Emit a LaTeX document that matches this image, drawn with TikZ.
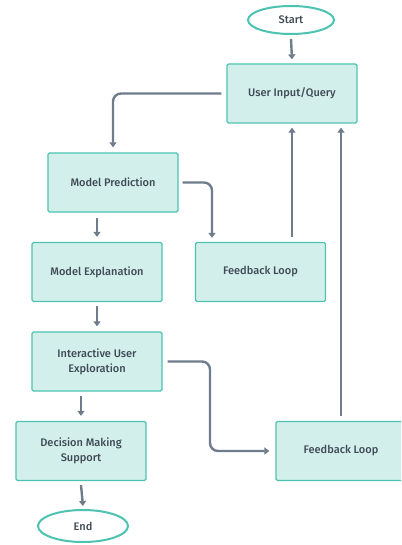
\documentclass[tikz,border=0pt]{standalone}
\usepackage{fontspec}
\setmainfont{Fira Sans}[UprightFont={* Medium}]
\usetikzlibrary{arrows.meta,shapes.geometric}
\definecolor{boxfill}{HTML}{D3EFEC}
\definecolor{boxline}{HTML}{4CC3B1}
\definecolor{arr}{HTML}{6E7C8C}
\definecolor{txt}{HTML}{3F4A55}
\tikzset{
  box/.style={draw=boxline, line width=1.3pt, fill=boxfill, rounded corners=1.5pt,
    minimum width=130pt, minimum height=59pt, align=center, text=txt,
    font=\fontsize{11}{15}\selectfont, inner sep=2pt},
  term/.style={ellipse, draw=boxline, line width=2pt, fill=white, minimum width=86pt,
    minimum height=28pt, inner sep=0pt, text=txt, font=\fontsize{11}{12}\selectfont},
  conn/.style={draw=arr, line width=2.4pt, -{Triangle[width=7pt,length=5pt]}, rounded corners=8pt}
}
\begin{document}
\begin{tikzpicture}[x=1pt,y=-1pt]
\useasboundingbox (0,0) rectangle (401,545);
\begin{scope}
\clip (0,0) rectangle (401,545);
\node[term] (start) at (291,20) {Start};
\node[box] (ui) at (292,93.5) {User Input/Query};
\node[box] (mp) at (113,182.5) {Model Prediction};
\node[box] (me) at (97,272) {Model Explanation};
\node[box] (fb1) at (260.5,272) {Feedback Loop};
\node[box] (iue) at (97,361.5) {Interactive User\\Exploration};
\node[box] (dms) at (81,451) {Decision Making\\Support};
\node[box] (fb2) at (341,451) {Feedback Loop};
\node[term, minimum width=90pt, minimum height=32pt] (end) at (83,526) {End};

\draw[conn] ([yshift=-4pt]start.south) -- ([yshift=4pt]ui.north);
\draw[conn] ([xshift=-5pt]ui.west) -| ([yshift=5pt]mp.north);
\draw[conn] ([xshift=4pt]mp.east) -| ([xshift=-48.5pt,yshift=4pt]fb1.north);
\draw[conn] ([yshift=-5pt]mp.south -| me.north) -- ([yshift=5pt]me.north);
\draw[conn] ([yshift=-4pt]me.south) -- ([yshift=5pt]iue.north);
\draw[conn] ([yshift=-4pt]iue.south -| dms.north) -- ([yshift=5pt]dms.north);
\draw[conn] ([yshift=-4pt]dms.south) -- ([yshift=3pt]end.north);
\draw[conn] ([yshift=5pt]fb1.north -| ui.south) -- ([yshift=-4pt]ui.south);
\draw[conn] ([yshift=5pt]fb2.north) -- ([yshift=-4pt]fb2.north |- ui.south);
\coordinate (bend) at (210,0);
\draw[conn] ([xshift=5pt]iue.east) -| (bend |- fb2.west) -- ([xshift=-6pt]fb2.west);
\end{scope}
\end{tikzpicture}
\end{document}
